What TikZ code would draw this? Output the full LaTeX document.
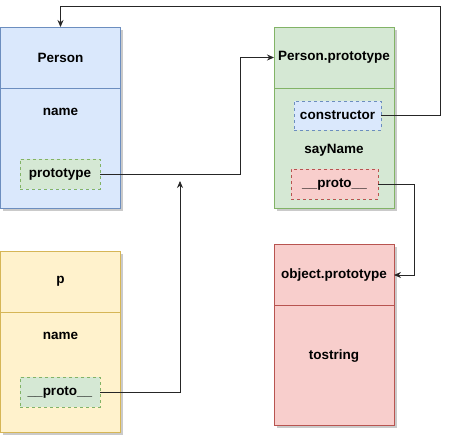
\documentclass[tikz,border=0pt]{standalone}
\usepackage{fontspec}
\setmainfont{Liberation Sans}
\usetikzlibrary{arrows.meta, positioning, shadows}
\definecolor{blueFill}{HTML}{DAE8FC}
\definecolor{blueLine}{HTML}{6C8EBF}
\definecolor{greenFill}{HTML}{D5E8D4}
\definecolor{greenLine}{HTML}{82B366}
\definecolor{yellowFill}{HTML}{FFF2CC}
\definecolor{yellowLine}{HTML}{D6B656}
\definecolor{redFill}{HTML}{F8CECC}
\definecolor{redLine}{HTML}{B85450}

\begin{document}
\begin{tikzpicture}[
    x=1pt, y=-1pt,
    header/.style={rectangle, draw, line width=0.8pt, outer sep=0pt, inner sep=0pt, minimum width=120pt, minimum height=61pt, font=\fontsize{13.5}{16}\selectfont\bfseries, drop shadow={shadow xshift=2.5pt, shadow yshift=-2.5pt, opacity=0.35, fill=black!60}},
    body/.style={header, minimum height=120pt},
    field/.style={inner sep=0pt, font=\fontsize{13.5}{16}\selectfont\bfseries},
    slot/.style={rectangle, draw, dashed, line width=0.8pt, inner sep=0pt, minimum width=80pt, minimum height=30pt, font=\fontsize{13.5}{16}\selectfont\bfseries},
    link/.style={-{Stealth[length=7pt,width=6pt]}, line width=0.8pt, black!85},
]
\useasboundingbox (0,0) rectangle (456,442);

% Person
\node[header, fill=blueFill, draw=blueLine]   (person)     at (60.5,57.5) {Person};
\node[body, fill=blueFill, draw=blueLine]     (personBody) [below=0pt of person] {};
\node[field]                                  (personName) at (60.5,112) {name};
\node[slot, fill=greenFill, draw=greenLine]   (personProto) at (60,174) {prototype};

% Person.prototype
\node[header, fill=greenFill, draw=greenLine] (ptype)      at (334,57.5) {Person.prototype};
\node[body, fill=greenFill, draw=greenLine]   (ptypeBody)  [below=0pt of ptype] {};
\node[slot, fill=blueFill, draw=blueLine, minimum width=87pt, minimum height=29pt] (ctor) at (337.5,115.5) {constructor};
\node[field]                                  (sayName)    at (334,150) {sayName};
\node[slot, fill=redFill, draw=redLine, minimum width=87pt] (ptypeProto) at (334.5,184) {\_\_proto\_\_};

% p
\node[header, fill=yellowFill, draw=yellowLine] (p)        at (60.5,281.5) {p};
\node[body, fill=yellowFill, draw=yellowLine]   (pBody)    [below=0pt of p] {};
\node[field]                                    (pName)    at (60.5,336) {name};
\node[slot, fill=greenFill, draw=greenLine]     (pProto)   at (60,392) {\_\_proto\_\_};

% object.prototype
\node[header, fill=redFill, draw=redLine]     (otype)      at (334,275) {object.prototype};
\node[body, fill=redFill, draw=redLine]       (otypeBody)  [below=0pt of otype] {};
\node[field]                                  (toString)   at (334,356) {tostring};

% links
\coordinate (pTip) at (180,181);
\draw[link] (personProto.east) -- ++(140,0) |- (ptype.west);
\draw[link] (ctor.east) -- ++(59,0) -- ++(0,-109) -| (person.north);
\draw[link] (ptypeProto.east) -- ++(36,0) |- (otype.east);
\draw[link] (pProto.east) -| (pTip);
\end{tikzpicture}
\end{document}
